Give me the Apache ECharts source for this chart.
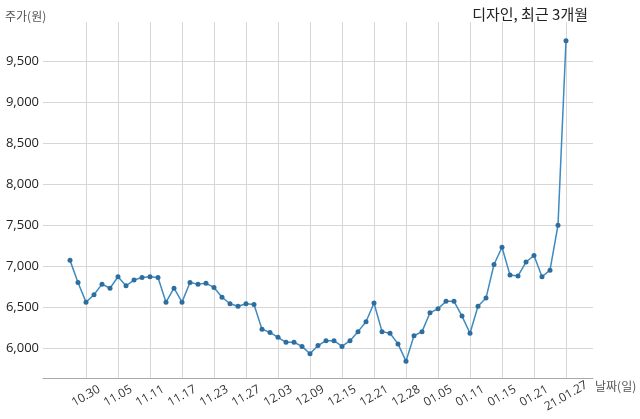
<!DOCTYPE html>
<html>
<head>
<meta charset="utf-8">
<script src="https://cdn.jsdelivr.net/npm/echarts@6/dist/echarts.min.js"></script>
<style>html,body{margin:0;padding:0;background:#fff}#c{width:640px;height:419px}</style>
</head>
<body>
<div id="c"></div>
<script>
const dates = ['10.28','10.29','10.30','11.02','11.03','11.04','11.05','11.06','11.09','11.10',
'11.11','11.12','11.13','11.16','11.17','11.18','11.19','11.20','11.23','11.24',
'11.25','11.26','11.27','11.30','12.01','12.02','12.03','12.04','12.07','12.08',
'12.09','12.10','12.11','12.14','12.15','12.16','12.17','12.18','12.21','12.22',
'12.23','12.24','12.28','12.29','12.30','01.04','01.05','01.06','01.07','01.08',
'01.11','01.12','01.13','01.14','01.15','01.18','01.19','01.20','01.21','01.22',
'01.25','01.26','21.01.27'];
const prices = [7070,6800,6560,6650,6780,6730,6870,6760,6830,6860,
6870,6860,6560,6730,6560,6800,6780,6790,6740,6620,
6540,6510,6540,6530,6230,6190,6130,6070,6070,6020,
5930,6030,6090,6090,6020,6090,6200,6320,6550,6200,
6180,6050,5840,6150,6200,6430,6480,6570,6570,6390,
6180,6510,6610,7020,7230,6890,6880,7050,7130,6870,
6950,7500,9750];
const labelIdx = [2,6,10,14,18,22,26,30,34,38,42,46,50,54,58,62];
const yTicks = [6000,6500,7000,7500,8000,8500,9000,9500];

const chart = echarts.init(document.getElementById('c'), null, {renderer:'canvas'});
const fontNum = '"Open Sans", "Noto Sans CJK KR", sans-serif';
const fontKr = '"Noto Sans CJK KR", sans-serif';
chart.setOption({
  animation: false,
  title: {
    text: '디자인, 최근 3개월', right: 47, top: 2,
    textStyle: {fontFamily: fontKr, fontSize: 15, fontWeight: 'normal', color: '#222'}
  },
  graphic: [
    {type:'text', left: 5, top: 10, style:{text:'주가(원)', font:'12px "Noto Sans CJK KR"', fill:'#555'}},
    {type:'text', left: 595, top: 380, style:{text:'날짜(일)', font:'12px "Noto Sans CJK KR"', fill:'#555'}}
  ],
  grid: {left: 43, right: 47, top: 22, bottom: 41, containLabel: false},
  xAxis: {
    type: 'value', min: -3.375, max: 65.375,
    axisLine: {show: true, lineStyle: {color: '#aaa', width: 1}},
    axisTick: {show: false, customValues: labelIdx},
    splitLine: {show: true, lineStyle: {color: '#d6d6d6', width: 1}},
    axisLabel: {
      customValues: labelIdx, rotate: 30, align: 'center', verticalAlign: 'middle', margin: 18,
      fontFamily: fontNum, fontSize: 12, color: '#333',
      formatter: v => dates[Math.round(v)]
    }
  },
  yAxis: {
    type: 'value', min: 5634, max: 9980,
    axisLine: {show: false},
    axisTick: {show: false, customValues: yTicks},
    splitLine: {show: true, lineStyle: {color: '#d6d6d6', width: 1}},
    axisLabel: {
      customValues: yTicks, margin: 4, fontFamily: fontNum, fontSize: 13, color: '#222',
      formatter: v => v.toLocaleString('en-US')
    }
  },
  series: [{
    type: 'line',
    data: prices.map((p, i) => [i, p]),
    symbol: 'circle', symbolSize: 5,
    lineStyle: {color: '#3d8bc0', width: 1.5},
    itemStyle: {color: '#2e6e9e'},
    clip: false
  }]
});
</script>
</body>
</html>
